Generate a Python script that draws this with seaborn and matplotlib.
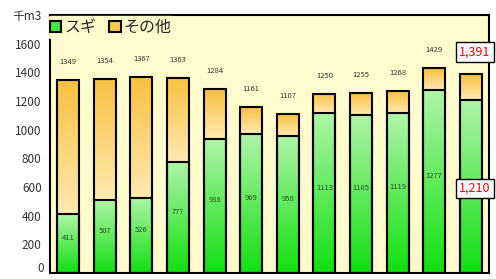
import numpy as np
import pandas as pd
import matplotlib
matplotlib.use("Agg")
import matplotlib.pyplot as plt
import matplotlib.colors as mcolors
from matplotlib.patches import Patch
import seaborn as sns

# values (thousand m3)
years = [str(i) for i in range(12)]
totals = [1349, 1354, 1367, 1363, 1284, 1161, 1107, 1250, 1255, 1268, 1429, 1391]
sugi = [411, 507, 526, 777, 938, 969, 958, 1113, 1105, 1119, 1277, 1210]
yticks = [0, 200, 400, 600, 800, 1000, 1200, 1400, 1600, 1800]
ytick_labels = ["0", "200", "400", "600", "800", "1000", "1200", "1400", "1600", "千m3"]

sns.set_style("white")
plt.rcParams["font.family"] = ["Noto Sans CJK JP", "DejaVu Sans"]

bg = "#FFFBCC"
df = pd.DataFrame({"year": years, "total": totals, "sugi": sugi})

fig = plt.figure(figsize=(4.96, 2.79), dpi=100)
ax = fig.add_axes([50 / 496, 6 / 279, 439 / 496, 258 / 279])
ax.set_facecolor(bg)

sns.barplot(data=df, x="year", y="total", color="#F8C850", width=0.6,
            edgecolor="black", linewidth=1.5, ax=ax)
n_other = len(ax.patches)
sns.barplot(data=df, x="year", y="sugi", color="#40E840", width=0.6,
            edgecolor="black", linewidth=1.5, ax=ax)

# gradient fills clipped to the bars
grad_other = mcolors.LinearSegmentedColormap.from_list("o", ["#FFE9B0", "#F8C040"])
grad_sugi = mcolors.LinearSegmentedColormap.from_list("g", ["#10E010", "#B0F4A8"])
grad = np.linspace(0, 1, 128).reshape(-1, 1)
for k, p in enumerate(ax.patches):
    x0, w, h = p.get_x(), p.get_width(), p.get_height()
    if k < n_other:
        cmap = grad_other
        ext = (x0, x0 + w, sugi[k], h)
    else:
        cmap = grad_sugi
        ext = (x0, x0 + w, 0, h)
    im = ax.imshow(grad, cmap=cmap, extent=ext, origin="lower", aspect="auto",
                   zorder=p.get_zorder() + 0.01 * (k >= n_other))
    im.set_clip_path(p)
    p.set_zorder(p.get_zorder() + 0.5)
    p.set_facecolor("none")

ax.set_xlim(-0.5, 11.5)
ax.set_ylim(0, 1800)
ax.set_yticks(yticks)
# the "0" label is drawn by hand a little higher so it is not cut at the bottom
ax.set_yticklabels([""] + ytick_labels[1:], fontsize=8.5, color="#333333")
ax.text(-6 / 439, 30, ytick_labels[0], transform=ax.get_yaxis_transform(),
        ha="right", va="center", fontsize=8.5, color="#333333")
ax.set_xticks(np.arange(12) + 0.5)
ax.set_xticklabels([])
ax.tick_params(axis="x", direction="in", length=2, color="#888888")
ax.tick_params(axis="y", length=0, pad=6)
ax.set_xlabel("")
ax.set_ylabel("")
for s in ax.spines.values():
    s.set_color("black")
    s.set_linewidth(1.5)

for i, (t, s) in enumerate(zip(totals, sugi)):
    if i < 11:
        ax.text(i, t + 125, str(t), ha="center", va="center", fontsize=5.5, color="#333333")
        ax.text(i, s * 0.5 + 40, str(s), ha="center", va="center", fontsize=5.5, color="#225522")
    else:
        box = dict(boxstyle="square,pad=0.25", facecolor="white", edgecolor="black", linewidth=1)
        ax.text(i + 0.12, t + 150, f"{t:,}", ha="center", va="center", fontsize=9,
                color="red", bbox=box, clip_on=False, zorder=10)
        ax.text(i + 0.12, s - 620, f"{s:,}", ha="center", va="center", fontsize=9,
                color="red", bbox=box, clip_on=False, zorder=10)

leg_handles = [Patch(facecolor="#40E840", edgecolor="black", linewidth=1.5),
               Patch(facecolor="#F8C850", edgecolor="black", linewidth=1.5)]
leg = ax.legend(leg_handles, ["スギ", "その他"], loc="upper left", bbox_to_anchor=(-0.005, 0.995),
                ncol=2, fontsize=11.5, frameon=True, facecolor=bg, edgecolor=bg, framealpha=1,
                handlelength=0.7, handleheight=0.7, handletextpad=0.2, columnspacing=0.8,
                borderpad=0.15, borderaxespad=0.0)
leg.set_zorder(20)

fig.savefig("out.png", dpi=100, facecolor="white")
